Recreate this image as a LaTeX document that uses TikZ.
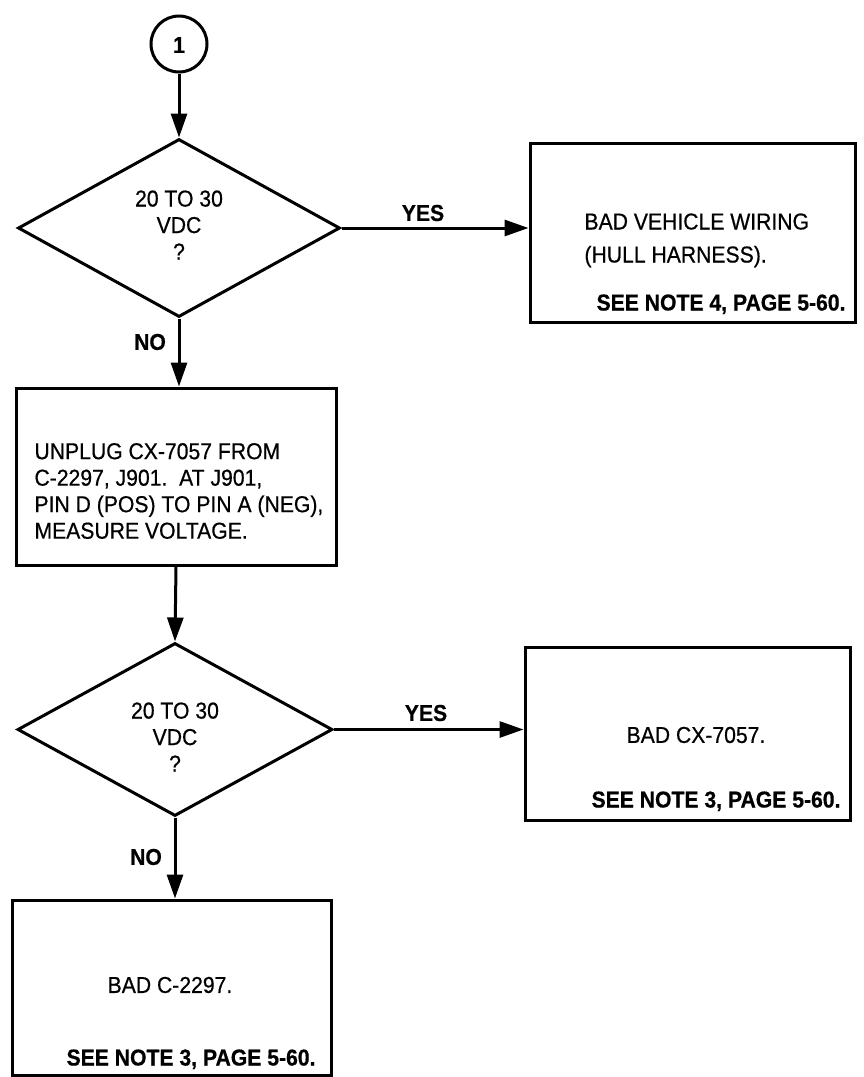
\documentclass[tikz,border=0pt]{standalone}
\usepackage{fontspec}
\setmainfont{Liberation Sans}[FakeStretch=0.92,FakeBold=0.6]
\usetikzlibrary{shapes.geometric,arrows.meta}
\begin{document}
\begin{tikzpicture}[x=1pt,y=-1pt,line width=3pt,
  box/.style={draw,rectangle,inner sep=0pt},
  decision/.style={draw,diamond,inner sep=0pt},
  connector/.style={draw,circle,inner sep=0pt,minimum size=56pt},
  txt/.style={inner sep=0pt,font=\fontsize{23}{26.5}\selectfont},
  lab/.style={inner sep=0pt,font=\fontsize{23}{26.5}\selectfont\bfseries},
  arr/.style={-{Triangle[length=24pt,width=16pt]}},
]
\useasboundingbox (0,0) rectangle (864,1077);

% shapes
\node[connector] (c1) at (179,44) {};
\node[lab] (c1t) at (179,45) {1};
\node[decision,minimum width=322pt,minimum height=178pt] (d1) at (179,228) {};
\node[box,minimum width=325pt,minimum height=179pt] (b1) at (692.5,232.5) {};
\node[box,minimum width=320pt,minimum height=177pt] (b2) at (176,476.5) {};
\node[decision,minimum width=315pt,minimum height=173pt] (d2) at (175,729.5) {};
\node[box,minimum width=325pt,minimum height=173pt] (b4) at (687.5,733.5) {};
\node[box,minimum width=319pt,minimum height=175pt] (b3) at (172,987.5) {};

% texts
\node[txt,align=center] (d1t) at (179,225) {20 TO 30\\VDC\\?};
\node[txt,anchor=base west] (b1a) at (583,229.5) {BAD VEHICLE WIRING};
\node[txt,anchor=base west] (b1b) at (583,262.5) {(HULL HARNESS).};
\node[lab,anchor=base east] (b1c) at (847,310.5) {SEE NOTE 4, PAGE 5-60.};
\node[txt,align=left,anchor=west] (b2t) at (33,491) {UNPLUG CX-7057 FROM\\C-2297, J901.\ \ AT J901,\\PIN D (POS) TO PIN A (NEG),\\MEASURE VOLTAGE.};
\node[txt,align=center] (d2t) at (175,737) {20 TO 30\\VDC\\?};
\node[txt] (b4a) at (696,735) {BAD CX-7057.};
\node[lab,anchor=base east] (b4b) at (842,807.5) {SEE NOTE 3, PAGE 5-60.};
\node[txt] (b3a) at (170,985) {BAD C-2297.};
\node[lab,anchor=base east] (b3b) at (317,1065.5) {SEE NOTE 3, PAGE 5-60.};

% labels
\node[lab] (yes1) at (423,213) {YES};
\node[lab] (no1) at (150,342) {NO};
\node[lab] (yes2) at (426,713) {YES};
\node[lab] (no2) at (146,857) {NO};

% connectors
\draw[arr] (c1.south) -- (d1.north);
\draw[arr] (d1.east) -- (d1.east -| b1.west);
\draw[arr] (d1.south) -- (d1.south |- b2.north);
\draw[arr] (b2.south) -- (d2.north);
\draw[arr] (d2.east) -- (d2.east -| b4.west);
\draw[arr] (d2.south) -- (d2.south |- b3.north);
\end{tikzpicture}
\end{document}
